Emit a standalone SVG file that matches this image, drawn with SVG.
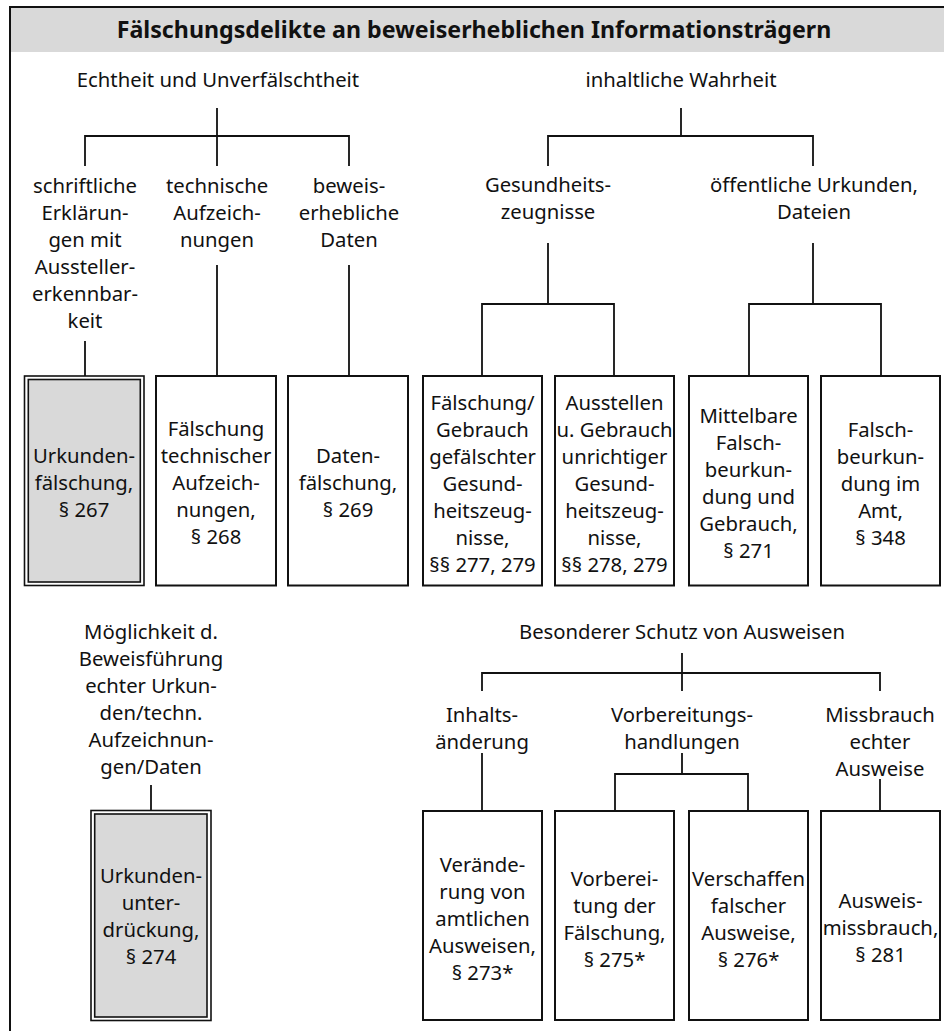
<svg xmlns="http://www.w3.org/2000/svg" width="944" height="1031" viewBox="0 0 944 1031">
<style>
text{font-family:"Noto Sans","Open Sans","Liberation Sans",sans-serif;font-size:20.3px;fill:#111;text-anchor:middle}
.title{font-weight:bold;font-size:23.2px}
.box{fill:#fff;stroke:#111;stroke-width:2}
.outer{fill:#fff;stroke:#111;stroke-width:1.6}
.inner{fill:#d9d9d9;stroke:#111;stroke-width:1.6}
.con{fill:none;stroke:#111;stroke-width:1.8}
</style>
<rect x="0" y="0" width="944" height="1031" fill="#fff"/>
<g id="frame">
<rect x="10" y="7" width="934" height="45" fill="#d9d9d9"/>
<path d="M10,1031V7H944" fill="none" stroke="#111" stroke-width="2"/>
<text class="title" x="474" y="38">Fälschungsdelikte an beweiserheblichen Informationsträgern</text>
</g>
<g id="connectors">
<path class="con" d="M217,108V136M85,166V136H349V166M217,136V166"/>
<path class="con" d="M85,341V376M217,265V376M349,265V376"/>
<path class="con" d="M681,108V136M548,166V136H813V166"/>
<path class="con" d="M548,243V304M482,376V304H614V376"/>
<path class="con" d="M813,243V304M749,376V304H881V376"/>
<path class="con" d="M151,785V810"/>
<path class="con" d="M682,653V673M482,691V673H880V691M682,673V691"/>
<path class="con" d="M482,753V811"/>
<path class="con" d="M682,753V774M615,811V774H748V811"/>
<path class="con" d="M880,779V811"/>
</g>
<g id="lbl-echtheit"><text x="218" y="87">Echtheit und Unverfälschtheit</text></g>
<g id="lbl-wahrheit"><text x="681" y="87">inhaltliche Wahrheit</text></g>
<g id="lbl-schriftliche"><text x="85" y="193">schriftliche<tspan x="85" dy="27">Erklärun-</tspan><tspan x="85" dy="27">gen mit</tspan><tspan x="85" dy="27">Aussteller-</tspan><tspan x="85" dy="27">erkennbar-</tspan><tspan x="85" dy="27">keit</tspan></text></g>
<g id="lbl-technische"><text x="217" y="193">technische<tspan x="217" dy="27">Aufzeich-</tspan><tspan x="217" dy="27">nungen</tspan></text></g>
<g id="lbl-daten"><text x="349" y="193">beweis-<tspan x="349" dy="27">erhebliche</tspan><tspan x="349" dy="27">Daten</tspan></text></g>
<g id="lbl-gesundheit"><text x="548" y="192">Gesundheits-<tspan x="548" dy="27">zeugnisse</tspan></text></g>
<g id="lbl-oeffentlich"><text x="814" y="192">öffentliche Urkunden,<tspan x="814" dy="27">Dateien</tspan></text></g>
<g id="box-267">
<rect class="outer" x="24.5" y="376" width="119.5" height="209.5"/>
<rect class="inner" x="28.3" y="379.5" width="112" height="202.5"/>
<text x="84" y="463">Urkunden-<tspan x="84" dy="27">fälschung,</tspan><tspan x="84" dy="27">§ 267</tspan></text>
</g>
<g id="box-268">
<rect class="box" x="156" y="376" width="120" height="209.5"/>
<text x="216" y="436">Fälschung<tspan x="216" dy="27">technischer</tspan><tspan x="216" dy="27">Aufzeich-</tspan><tspan x="216" dy="27">nungen,</tspan><tspan x="216" dy="27">§ 268</tspan></text>
</g>
<g id="box-269">
<rect class="box" x="288" y="376" width="120" height="209.5"/>
<text x="348" y="463">Daten-<tspan x="348" dy="27">fälschung,</tspan><tspan x="348" dy="27">§ 269</tspan></text>
</g>
<g id="box-277">
<rect class="box" x="423" y="376" width="119" height="209.5"/>
<text x="482.5" y="410">Fälschung/<tspan x="482.5" dy="27">Gebrauch</tspan><tspan x="482.5" dy="27">gefälschter</tspan><tspan x="482.5" dy="27">Gesund-</tspan><tspan x="482.5" dy="27">heitszeug-</tspan><tspan x="482.5" dy="27">nisse,</tspan><tspan x="482.5" dy="27">§§ 277, 279</tspan></text>
</g>
<g id="box-278">
<rect class="box" x="555" y="376" width="119" height="209.5"/>
<text x="614.5" y="410">Ausstellen<tspan x="614.5" dy="27">u. Gebrauch</tspan><tspan x="614.5" dy="27">unrichtiger</tspan><tspan x="614.5" dy="27">Gesund-</tspan><tspan x="614.5" dy="27">heitszeug-</tspan><tspan x="614.5" dy="27">nisse,</tspan><tspan x="614.5" dy="27">§§ 278, 279</tspan></text>
</g>
<g id="box-271">
<rect class="box" x="689" y="376" width="119" height="209.5"/>
<text x="748.5" y="423">Mittelbare<tspan x="748.5" dy="27">Falsch-</tspan><tspan x="748.5" dy="27">beurkun-</tspan><tspan x="748.5" dy="27">dung und</tspan><tspan x="748.5" dy="27">Gebrauch,</tspan><tspan x="748.5" dy="27">§ 271</tspan></text>
</g>
<g id="box-348">
<rect class="box" x="821" y="376" width="119" height="209.5"/>
<text x="880.5" y="437">Falsch-<tspan x="880.5" dy="27">beurkun-</tspan><tspan x="880.5" dy="27">dung im</tspan><tspan x="880.5" dy="27">Amt,</tspan><tspan x="880.5" dy="27">§ 348</tspan></text>
</g>
<g id="lbl-moeglichkeit"><text x="151" y="639">Möglichkeit d.<tspan x="151" dy="27">Beweisführung</tspan><tspan x="151" dy="27">echter Urkun-</tspan><tspan x="151" dy="27">den/techn.</tspan><tspan x="151" dy="27">Aufzeichnun-</tspan><tspan x="151" dy="27">gen/Daten</tspan></text></g>
<g id="box-274">
<rect class="outer" x="91" y="810.5" width="120" height="210"/>
<rect class="inner" x="94.7" y="814" width="112.3" height="203"/>
<text x="151" y="883">Urkunden-<tspan x="151" dy="27">unter-</tspan><tspan x="151" dy="27">drückung,</tspan><tspan x="151" dy="27">§ 274</tspan></text>
</g>
<g id="lbl-besonderer"><text x="682" y="639">Besonderer Schutz von Ausweisen</text></g>
<g id="lbl-inhalt"><text x="482" y="722">Inhalts-<tspan x="482" dy="27">änderung</tspan></text></g>
<g id="lbl-vorbereitung"><text x="682" y="722">Vorbereitungs-<tspan x="682" dy="27">handlungen</tspan></text></g>
<g id="lbl-missbrauch"><text x="880" y="722">Missbrauch<tspan x="880" dy="27">echter</tspan><tspan x="880" dy="27">Ausweise</tspan></text></g>
<g id="box-273">
<rect class="box" x="423" y="811" width="119" height="209"/>
<text x="482.5" y="872">Verände-<tspan x="482.5" dy="27">rung von</tspan><tspan x="482.5" dy="27">amtlichen</tspan><tspan x="482.5" dy="27">Ausweisen,</tspan><tspan x="482.5" dy="27">§ 273*</tspan></text>
</g>
<g id="box-275">
<rect class="box" x="555" y="811" width="119" height="209"/>
<text x="614.5" y="886">Vorberei-<tspan x="614.5" dy="27">tung der</tspan><tspan x="614.5" dy="27">Fälschung,</tspan><tspan x="614.5" dy="27">§ 275*</tspan></text>
</g>
<g id="box-276">
<rect class="box" x="689" y="811" width="119" height="209"/>
<text x="748.5" y="886">Verschaffen<tspan x="748.5" dy="27">falscher</tspan><tspan x="748.5" dy="27">Ausweise,</tspan><tspan x="748.5" dy="27">§ 276*</tspan></text>
</g>
<g id="box-281">
<rect class="box" x="821" y="811" width="119" height="209"/>
<text x="880.5" y="908">Ausweis-<tspan x="880.5" dy="27">missbrauch,</tspan><tspan x="880.5" dy="27">§ 281</tspan></text>
</g>
</svg>
